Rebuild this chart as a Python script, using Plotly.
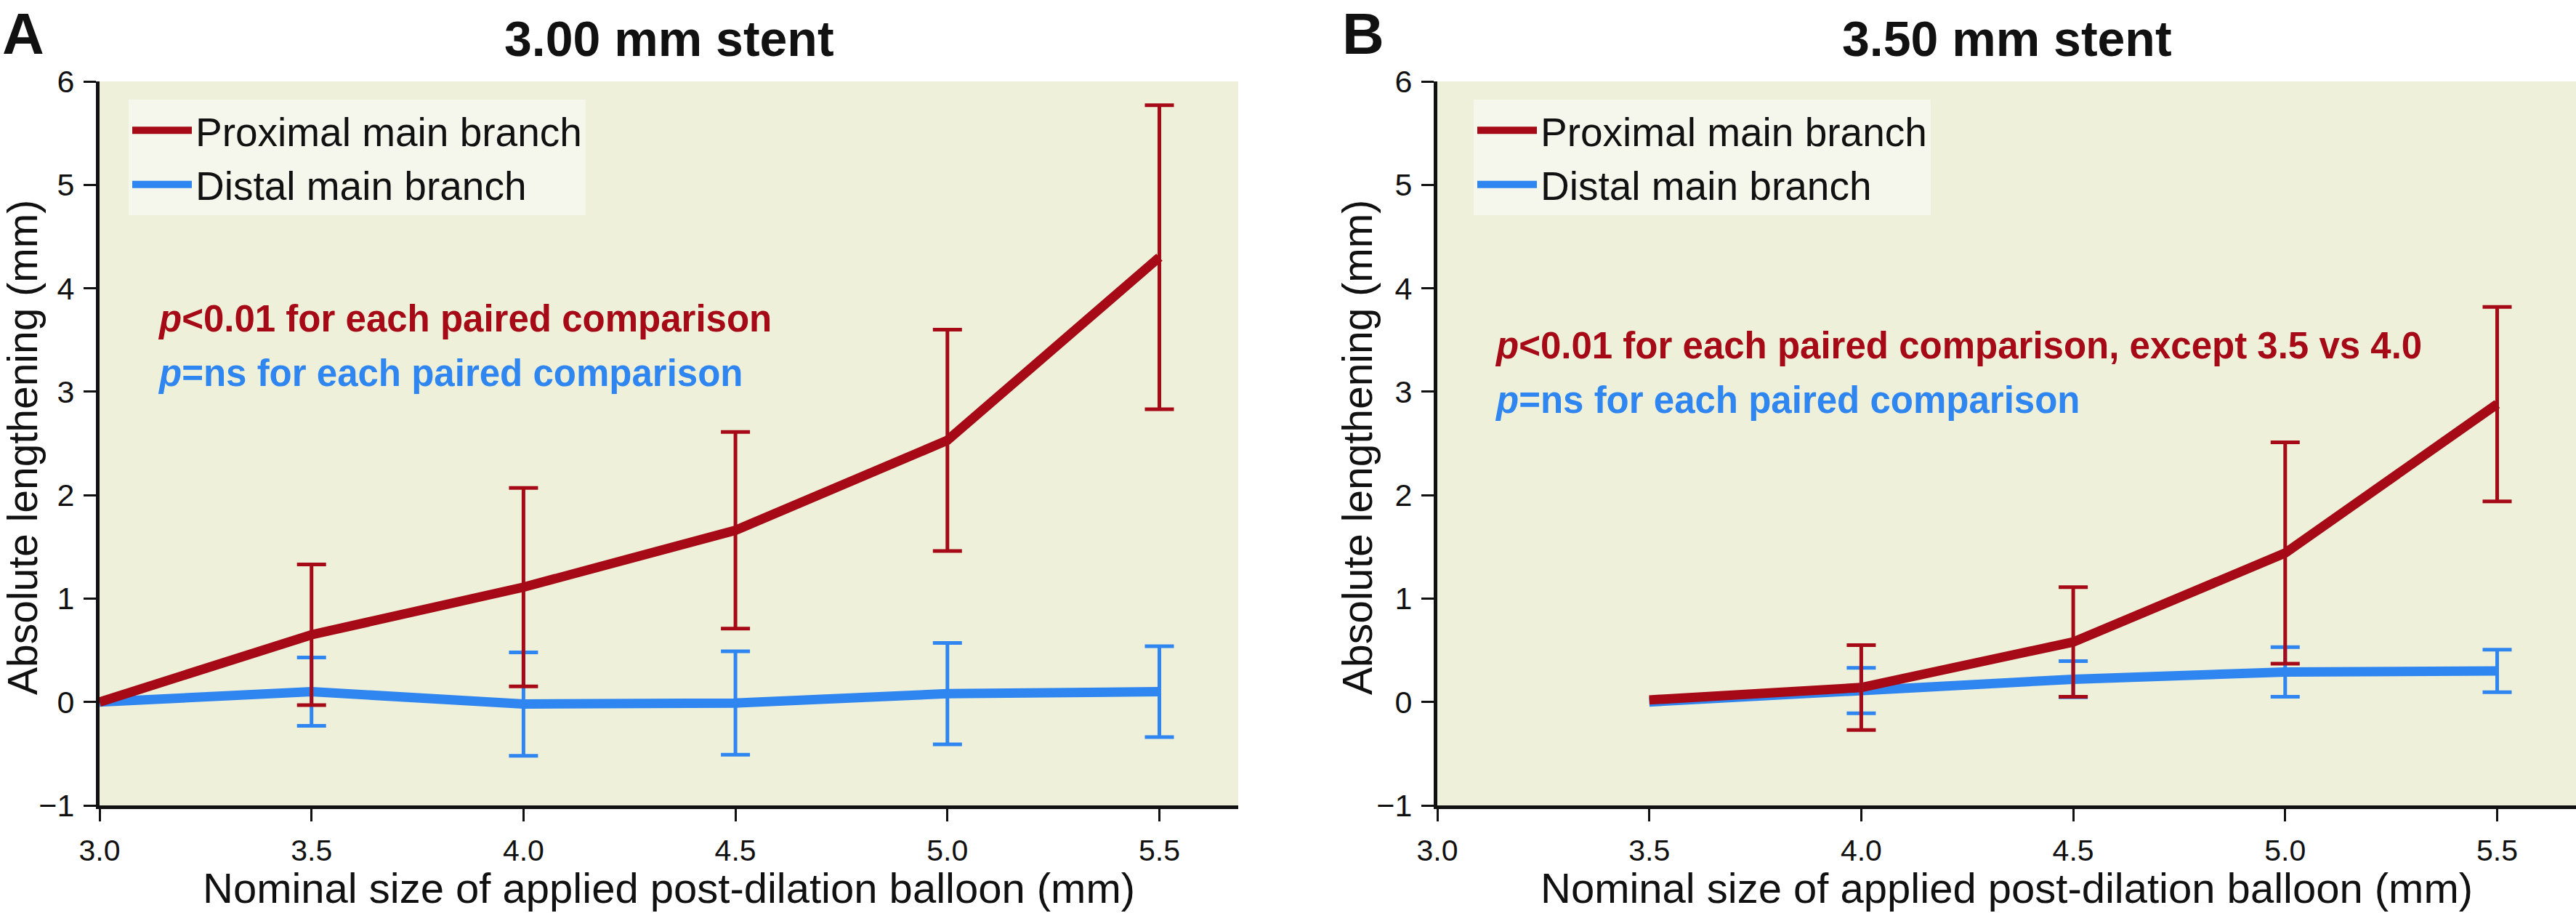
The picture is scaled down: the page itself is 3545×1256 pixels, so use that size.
import plotly.graph_objects as go

# ---------------- data ----------------
x_a = [3.0, 3.5, 4.0, 4.5, 5.0, 5.5]
prox_a = [0.0, 0.65, 1.11, 1.66, 2.53, 4.30]
prox_a_sd = [0.0, 0.68, 0.96, 0.95, 1.07, 1.47]
dist_a = [0.0, 0.10, -0.02, -0.01, 0.08, 0.10]
dist_a_sd = [0.0, 0.33, 0.50, 0.50, 0.49, 0.44]

x_b = [3.5, 4.0, 4.5, 5.0, 5.5]
prox_b = [0.02, 0.14, 0.58, 1.44, 2.88]
prox_b_sd = [0.0, 0.41, 0.53, 1.07, 0.94]
dist_b = [0.0, 0.11, 0.22, 0.29, 0.30]
dist_b_sd = [0.0, 0.22, 0.175, 0.24, 0.205]

x_tick_vals = [3.0, 3.5, 4.0, 4.5, 5.0, 5.5]
x_tick_text = ["3.0", "3.5", "4.0", "4.5", "5.0", "5.5"]
y_tick_vals = [-1, 0, 1, 2, 3, 4, 5, 6]

series_names = ["Proximal main branch", "Distal main branch"]
panel_titles = ["3.00 mm stent", "3.50 mm stent"]
panel_letters = ["A", "B"]
p_red = ["<b><i>p</i>&lt;0.01 for each paired comparison</b>",
         "<b><i>p</i>&lt;0.01 for each paired comparison, except 3.5 vs 4.0</b>"]
p_blue = "<b><i>p</i>=ns for each paired comparison</b>"
x_title = "Nominal size of applied post-dilation balloon (mm)"
y_title = "Absolute lengthening (mm)"

# ---------------- style ----------------
W, H = 3545, 1256
RED = "#a50a16"
BLUE = "#2f86f0"
INK = "#111111"
PLOT_BG = "#eff0d9"
LEG_BG = "#f5f6ec"
FONT = "Liberation Sans, Arial, sans-serif"

def px(v):
    return v / W

def py(v):
    return 1 - v / H

fig = go.Figure()

panels = [
    dict(x=x_a, prox=prox_a, prox_sd=prox_a_sd, dist=dist_a, dist_sd=dist_a_sd,
         xa="x", ya="y", legend="legend"),
    dict(x=x_b, prox=prox_b, prox_sd=prox_b_sd, dist=dist_b, dist_sd=dist_b_sd,
         xa="x2", ya="y2", legend="legend2"),
]

for p in panels:
    fig.add_trace(go.Scatter(x=p["x"], y=p["dist"], mode="lines", name=series_names[1],
                             line=dict(color=BLUE, width=13), legendrank=2,
                             xaxis=p["xa"], yaxis=p["ya"], legend=p["legend"]))
    fig.add_trace(go.Scatter(x=p["x"], y=p["prox"], mode="lines", name=series_names[0],
                             line=dict(color=RED, width=13), legendrank=1,
                             xaxis=p["xa"], yaxis=p["ya"], legend=p["legend"]))
    for yy, sd, col in [(p["dist"], p["dist_sd"], BLUE), (p["prox"], p["prox_sd"], RED)]:
        fig.add_trace(go.Scatter(x=p["x"][1:], y=yy[1:], mode="markers",
                                 marker=dict(size=2, opacity=0), showlegend=False,
                                 hoverinfo="skip",
                                 error_y=dict(type="data", array=sd[1:], visible=True,
                                              color=col, thickness=5, width=20),
                                 xaxis=p["xa"], yaxis=p["ya"]))

axis_common = dict(showline=True, linewidth=5, linecolor=INK, ticks="outside",
                   ticklen=17, tickwidth=3, tickcolor=INK, showgrid=False,
                   zeroline=False, automargin=False)

ydom = [(H - 1108) / H, (H - 112) / H]
xdom_a = [px(137), px(1704)]
xdom_b = [px(1978), 1.0]

xtickfont = dict(family=FONT, size=41, color=INK)
ytickfont = dict(family=FONT, size=43, color=INK)

fig.update_layout(
    width=W, height=H, autosize=False,
    margin=dict(l=0, r=0, t=0, b=0, autoexpand=False),
    paper_bgcolor="white", plot_bgcolor=PLOT_BG,
    xaxis=dict(domain=xdom_a, range=[3.0, 5.686], tickvals=x_tick_vals, ticktext=x_tick_text,
               tickfont=xtickfont, anchor="y", ticklabelstandoff=5, **axis_common),
    yaxis=dict(domain=ydom, range=[-1, 6], tickvals=y_tick_vals,
               tickfont=ytickfont, anchor="x", ticklabelstandoff=4, **axis_common),
    xaxis2=dict(domain=xdom_b, range=[3.0, 5.686], tickvals=x_tick_vals, ticktext=x_tick_text,
                tickfont=xtickfont, anchor="y2", ticklabelstandoff=5, **axis_common),
    yaxis2=dict(domain=ydom, range=[-1, 6], tickvals=y_tick_vals,
                tickfont=ytickfont, anchor="x2", ticklabelstandoff=4, **axis_common),
    legend=dict(x=px(177), y=py(137), xanchor="left", yanchor="top", bgcolor=LEG_BG,
                font=dict(family=FONT, size=55, color=INK), itemwidth=82,
                tracegroupgap=0, borderwidth=0),
    legend2=dict(x=px(2028), y=py(137), xanchor="left", yanchor="top", bgcolor=LEG_BG,
                 font=dict(family=FONT, size=55, color=INK), itemwidth=82,
                 tracegroupgap=0, borderwidth=0),
    showlegend=True,
)

ann = []
letter_x = [1, 1845]
title_cx = [(137 + 1704) / 2, (1978 + 3545) / 2]
ytitle_cx = [31, 1868]
ptext_x = [215, 2055]
p_red_base = [457, 494]
p_blue_base = [532, 569]

for i in range(2):
    ann.append(dict(text="<b>" + panel_letters[i] + "</b>", x=px(letter_x[i]), y=1.0,
                    xref="paper", yref="paper", xanchor="left", yanchor="top",
                    showarrow=False, font=dict(family=FONT, size=80, color=INK)))
    ann.append(dict(text="<b>" + panel_titles[i] + "</b>", x=px(title_cx[i]), y=py(93),
                    xref="paper", yref="paper", xanchor="center", yanchor="bottom",
                    showarrow=False, font=dict(family=FONT, size=68, color=INK)))
    ann.append(dict(text=p_red[i], x=px(ptext_x[i]), y=py(p_red_base[i] + 12),
                    xref="paper", yref="paper", xanchor="left", yanchor="bottom",
                    showarrow=False, font=dict(family=FONT, size=51, color=RED)))
    ann.append(dict(text=p_blue, x=px(ptext_x[i]), y=py(p_blue_base[i] + 12),
                    xref="paper", yref="paper", xanchor="left", yanchor="bottom",
                    showarrow=False, font=dict(family=FONT, size=51, color=BLUE)))
    ann.append(dict(text=x_title, x=px(title_cx[i]), y=py(1256),
                    xref="paper", yref="paper", xanchor="center", yanchor="bottom",
                    showarrow=False, font=dict(family=FONT, size=58, color=INK)))
    ann.append(dict(text=y_title, x=px(ytitle_cx[i]), y=py(616),
                    xref="paper", yref="paper", xanchor="center", yanchor="middle",
                    textangle=-90, showarrow=False,
                    font=dict(family=FONT, size=57, color=INK)))

fig.update_layout(annotations=ann)

fig.write_html("out.html",
               config={"displayModeBar": False},
               post_script="document.body.style.margin='0px';document.body.style.overflow='hidden';")
